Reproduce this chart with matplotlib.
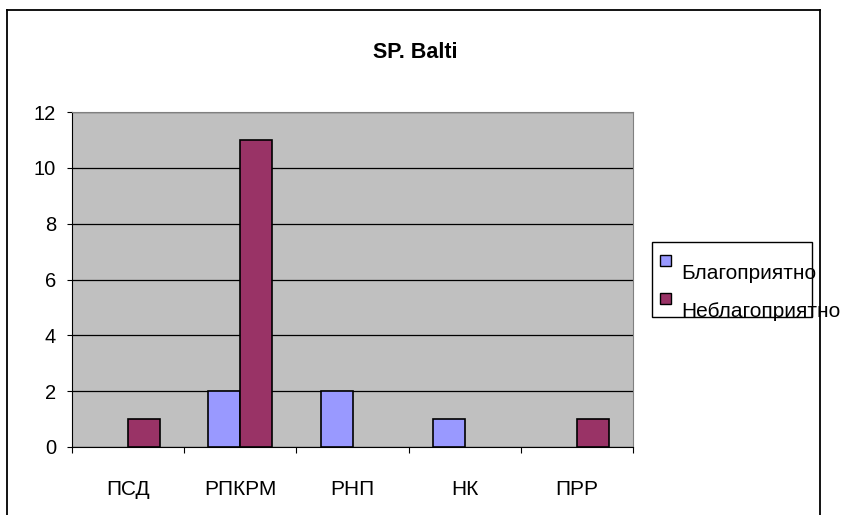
import matplotlib.pyplot as plt
import numpy as np
from matplotlib.patches import Rectangle

plt.rcParams['font.family'] = ['Liberation Sans', 'DejaVu Sans']

categories = ['ПСД', 'РПКРМ', 'РНП', 'НК', 'ПРР']
series_names = ['Благоприятно', 'Неблагоприятно']
favorable = [0, 2, 2, 1, 0]
unfavorable = [1, 11, 0, 0, 1]
colors = ['#9999ff', '#993366']

W, H = 847, 515
fig = plt.figure(figsize=(W / 100, H / 100), dpi=100)

# outer chart border (bottom edge is cut off in the reference)
for xs, ys in [([7, 7], [515, 10]), ([7, 820], [10, 10]), ([820, 820], [10, 515])]:
    fig.add_artist(plt.Line2D([x / W for x in xs], [1 - y / H for y in ys],
                              color='black', lw=1.3, zorder=5))

ax = fig.add_axes([72 / W, 1 - 447 / H, (633 - 72) / W, (447 - 112) / H])
ax.set_facecolor('#c0c0c0')
x = np.arange(len(categories))
bw = 0.285
for vals, off, c in [(favorable, -bw / 2, colors[0]), (unfavorable, bw / 2, colors[1])]:
    lws = [1.2 if v else 0 for v in vals]  # no outline for empty bars
    ax.bar(x + off, vals, bw, color=c, edgecolor='black', linewidth=lws, zorder=3)

ax.set_xlim(-0.5, len(categories) - 0.5)
ax.set_ylim(0, 12)
ax.set_yticks(range(0, 13, 2))
ax.yaxis.grid(True, color='black', lw=0.9, zorder=1)
ax.set_axisbelow(True)
ax.set_xticks(np.arange(-0.5, len(categories), 1))
ax.set_xticklabels([])
ax.set_xticks(x, minor=True)
ax.set_xticklabels(categories, minor=True, fontsize=15)
ax.tick_params(axis='x', which='minor', length=0, pad=24)
ax.tick_params(axis='x', which='major', length=4, color='black')
ax.tick_params(axis='y', length=3.6, labelsize=14.5, pad=8)
for side in ['top', 'right']:
    ax.spines[side].set_color('#808080')
ax.spines['left'].set_color('black')
ax.spines['bottom'].set_color('black')

fig.text(415 / W, 1 - 52 / H, 'SP. Balti', ha='center', va='center',
         fontsize=15.5, fontweight='bold')

# legend drawn by hand: labels overflow the frame as in the reference
fig.add_artist(Rectangle((652 / W, 1 - 317 / H), 160 / W, 75 / H,
                         transform=fig.transFigure, fill=False, ec='black', lw=1))
for i, name in enumerate(series_names):
    top = 255 + i * 38
    fig.add_artist(Rectangle((660 / W, 1 - (top + 11) / H), 11 / W, 11 / H,
                             transform=fig.transFigure, fc=colors[i], ec='black', lw=1))
    fig.text(681 / W, 1 - (top + 24) / H, name, ha='left', va='baseline', fontsize=15)

fig.savefig('out.png', dpi=100)
